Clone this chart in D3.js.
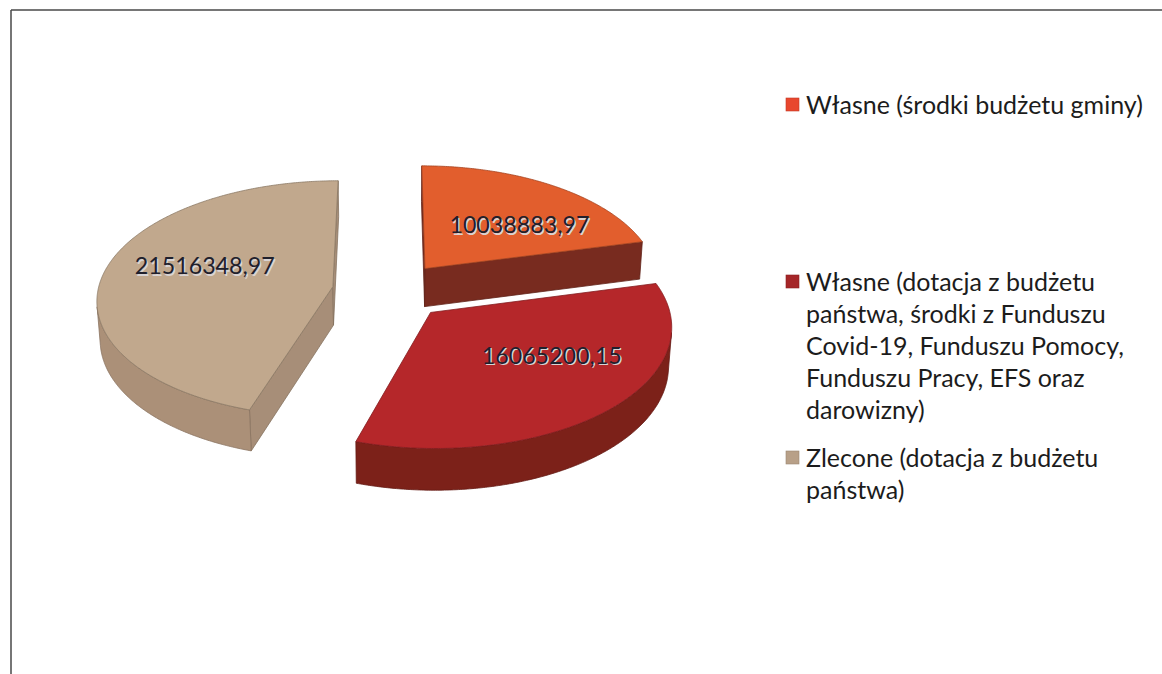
<!DOCTYPE html>
<html>
<head>
<meta charset="utf-8">
<script src="https://cdn.jsdelivr.net/npm/d3@7"></script>
<style>
  html, body { margin: 0; padding: 0; background: #fff; }
  svg { display: block; font-family: Lato, "Open Sans", sans-serif; }
</style>
</head>
<body>
<svg id="chart" width="1162" height="674"></svg>
<script>
// data
const categories = [
  "Własne (środki budżetu gminy)",
  "Własne (dotacja z budżetu państwa, środki z Funduszu Covid-19, Funduszu Pomocy, Funduszu Pracy, EFS oraz darowizny)",
  "Zlecone (dotacja z budżetu państwa)"
];
const values = [10038883.97, 16065200.15, 21516348.97];
const valueLabels = ["10038883,97", "16065200,15", "21516348,97"];

// colours: top face, outer wall, cut face, legend swatch
const topColors = ["#e25e2d", "#b5272a", "#c1a88d"];
const wallColors = ["#7a2a1e", "#7c2119", "#ab9078"];
const cutColors = ["#782b1f", "#7a2019", "#a78e78"];
const swatchColors = ["#e8472e", "#a52628", "#b8a088"];

const svg = d3.select("#chart");

// frame of the scanned chart area
svg.append("path")
  .attr("d", "M11,10H1162M11,10V674")
  .attr("fill", "none")
  .attr("stroke", "#4a4a4a")
  .attr("stroke-width", 1.5);

// simple perspective camera for the 3d pie
const cam = { cx: 390, cy: 291, r: 235, sinA: 0.5, dist: 2000, depth: 45, explode: 58 };
cam.cosA = Math.sqrt(1 - cam.sinA * cam.sinA);
const camPos = [0, cam.dist * cam.cosA, cam.dist * cam.sinA];

function project(p) {
  const zv = p[1] * cam.cosA + p[2] * cam.sinA;
  const up = p[2] * cam.cosA - p[1] * cam.sinA;
  const s = cam.dist / (cam.dist - zv);
  return [cam.cx + p[0] * s, cam.cy - up * s];
}

const pie = d3.pie().sort(null).value(d => d);
const slices = pie(values);
const radius = d3.scaleLinear().domain([0, 1]).range([0, cam.r]);

// ground point of a slice at angle a and radial fraction f, height z
function pt(sl, a, f, z) {
  const m = (sl.startAngle + sl.endAngle) / 2;
  const rho = radius(f);
  return [
    cam.explode * Math.sin(m) + rho * Math.sin(a),
    -cam.explode * Math.cos(m) - rho * Math.cos(a),
    z
  ];
}

function facing(n, p) {
  return n[0] * (camPos[0] - p[0]) + n[1] * (camPos[1] - p[1]) + n[2] * (camPos[2] - p[2]) > 0;
}

const line = d3.line().curve(d3.curveLinear);
const step = Math.PI / 360;

function arcAngles(a0, a1) {
  const out = [];
  const n = Math.max(2, Math.ceil((a1 - a0) / step));
  for (let i = 0; i <= n; i++) out.push(a0 + (a1 - a0) * i / n);
  return out;
}

// back to front
const order = slices.map((d, i) => i).sort((i, j) => {
  const a = pt(slices[i], 0, 0, 0), b = pt(slices[j], 0, 0, 0);
  return a[1] - b[1];
});

const pieG = svg.append("g");
const h = cam.depth;

order.forEach(i => {
  const sl = slices[i];
  const a0 = sl.startAngle, a1 = sl.endAngle;
  const g = pieG.append("g");

  // cut faces
  [[a0, [-Math.cos(a0), -Math.sin(a0), 0]], [a1, [Math.cos(a1), Math.sin(a1), 0]]].forEach(([a, n]) => {
    if (!facing(n, pt(sl, a, 0.5, -h / 2))) return;
    const quad = [pt(sl, a, 0, 0), pt(sl, a, 1, 0), pt(sl, a, 1, -h), pt(sl, a, 0, -h)].map(project);
    g.append("path")
      .attr("d", line(quad) + "Z")
      .attr("fill", cutColors[i])
      .attr("stroke", d3.color(cutColors[i]).darker(0.6))
      .attr("stroke-width", 0.8)
      .attr("stroke-linejoin", "round");
  });

  // outer wall, visible part only
  const angs = arcAngles(a0, a1);
  let run = [];
  const runs = [];
  angs.forEach(a => {
    const ok = facing([Math.sin(a), -Math.cos(a), 0], pt(sl, a, 1, -h / 2));
    if (ok) run.push(a);
    else if (run.length) { runs.push(run); run = []; }
  });
  if (run.length) runs.push(run);
  runs.forEach(rn => {
    if (rn.length < 2) return;
    const topPts = rn.map(a => project(pt(sl, a, 1, 0)));
    const botPts = rn.slice().reverse().map(a => project(pt(sl, a, 1, -h)));
    g.append("path")
      .attr("d", line(topPts.concat(botPts)) + "Z")
      .attr("fill", wallColors[i])
      .attr("stroke", d3.color(wallColors[i]).darker(0.6))
      .attr("stroke-width", 0.8)
      .attr("stroke-linejoin", "round");
  });

  // top face
  const topFace = [project(pt(sl, 0, 0, 0))].concat(angs.map(a => project(pt(sl, a, 1, 0))));
  g.append("path")
    .attr("d", line(topFace) + "Z")
    .attr("fill", topColors[i])
    .attr("stroke", d3.color(topColors[i]).darker(0.9))
    .attr("stroke-width", 0.8)
    .attr("stroke-linejoin", "round");
});

// data labels
const labelTurn = [0.16, -0.2, 0.16];
const labelG = svg.append("g")
  .attr("font-size", 23)
  .attr("text-anchor", "middle");

// fit the label size to the scanned width
const probe = labelG.append("text").text(valueLabels[0]);
const lw = probe.node().getComputedTextLength();
probe.remove();
const labelSize = 23 * 140 / lw;
labelG.attr("font-size", labelSize);

slices.forEach((sl, i) => {
  const m = (sl.startAngle + sl.endAngle) / 2 + labelTurn[i];
  const p = project(pt(sl, m, 0.59, 0));
  labelG.append("text")
    .attr("x", p[0] + 1.5).attr("y", p[1] + 1.5)
    .attr("dy", "0.35em")
    .attr("fill", "#d9d4d4")
    .text(valueLabels[i]);
  labelG.append("text")
    .attr("x", p[0]).attr("y", p[1])
    .attr("dy", "0.35em")
    .attr("fill", "#20202c")
    .text(valueLabels[i]);
});

// legend
const legendX = 786;
const legendRows = [105, 282, 458];
const lineGap = 32;
const legendG = svg.append("g").attr("fill", "#1c1c1c");

const probe2 = legendG.append("text").attr("font-size", 27).text(categories[0]);
const w0 = probe2.node().getComputedTextLength();
probe2.remove();
const legendSize = 27 * 337 / w0;
legendG.attr("font-size", legendSize);

function wrap(text, maxW) {
  const words = text.split(" ");
  const lines = [];
  let cur = "";
  const t = legendG.append("text");
  words.forEach(w => {
    const trial = cur ? cur + " " + w : w;
    t.text(trial);
    if (t.node().getComputedTextLength() > maxW && cur) {
      lines.push(cur);
      cur = w;
    } else cur = trial;
  });
  if (cur) lines.push(cur);
  t.remove();
  return lines;
}

categories.forEach((c, i) => {
  const y0 = legendRows[i];
  legendG.append("rect")
    .attr("x", legendX).attr("y", y0 - 7)
    .attr("width", 13).attr("height", 13)
    .attr("fill", swatchColors[i])
    .attr("stroke", d3.color(swatchColors[i]).darker(0.5))
    .attr("stroke-width", 0.6);
  const lines = wrap(c, 345);
  const txt = legendG.append("text")
    .attr("x", legendX + 20)
    .attr("y", y0)
    .attr("dy", "0.35em");
  lines.forEach((ln, k) => {
    txt.append("tspan")
      .attr("x", legendX + 20)
      .attr("y", y0 + k * lineGap)
      .attr("dy", "0.35em")
      .text(ln);
  });
});
</script>
</body>
</html>
